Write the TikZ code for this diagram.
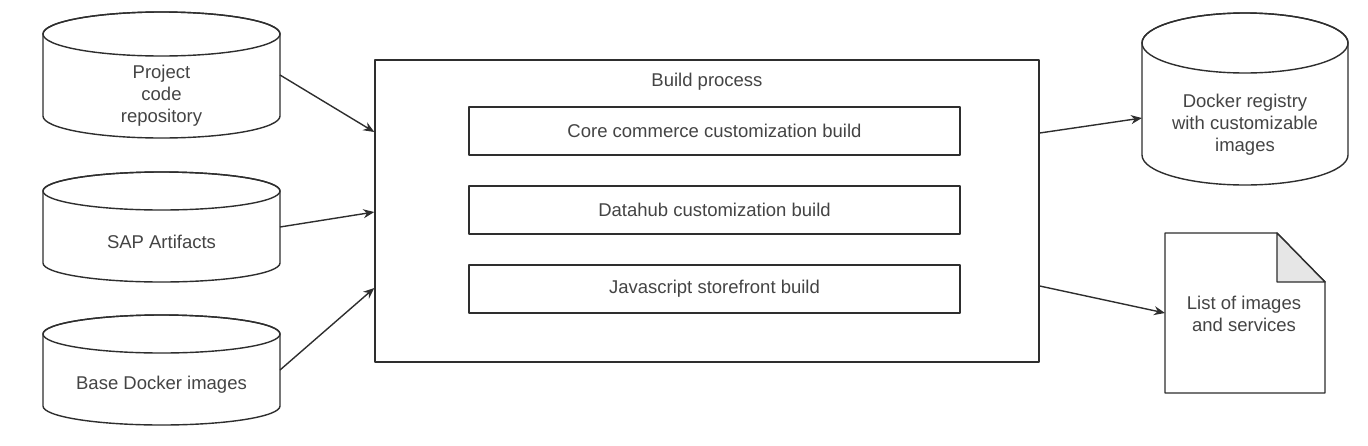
\documentclass[tikz,border=0pt]{standalone}
\usepackage{fontspec}
\setmainfont{Liberation Sans}
\usetikzlibrary{arrows.meta,calc}
\definecolor{linec}{HTML}{2E2E2E}
\definecolor{textc}{HTML}{444444}
\definecolor{foldc}{HTML}{E6E6E6}
\tikzset{
  shapeline/.style={draw=linec, line width=1.4pt, line join=round},
  lbl/.style={text=textc, font=\fontsize{18.5}{22}\selectfont, align=center, inner sep=0pt},
  boxnode/.style={shapeline, fill=white, inner sep=0pt},
  anchornode/.style={inner sep=0pt, outer sep=0pt},
  conn/.style={draw=linec, line width=1.4pt, -{Stealth[length=11pt,width=9pt]}},
}
\newcommand\drawcyl[6]{% name, x1, x2, ytop, ybot, ry
  \pgfmathsetmacro\cxm{(#2+#3)/2}%
  \pgfmathsetmacro\rxm{(#3-#2)/2}%
  \pgfmathsetmacro\cym{(#4+#5)/2}%
  \pgfmathsetmacro\wm{#3-#2}%
  \pgfmathsetmacro\hm{#5-#4}%
  \path[shapeline, fill=white] (#2,#4+#6) -- (#2,#5-#6) arc[start angle=180,end angle=0,x radius=\rxm,y radius=#6] -- (#3,#4+#6) arc[start angle=0,end angle=-180,x radius=\rxm,y radius=#6];
  \draw[shapeline] (\cxm,#4+#6) ellipse[x radius=\rxm, y radius=#6];
  \node[anchornode, minimum width=\wm pt, minimum height=\hm pt] (#1) at (\cxm,\cym) {};
}
\begin{document}
\begin{tikzpicture}[x=1pt,y=-1pt]
\useasboundingbox (0,0) rectangle (1368,445);
% left cylinders
\drawcyl{c1}{43}{280}{12}{138}{22}
\drawcyl{c2}{43}{280}{172}{282}{19}
\drawcyl{c3}{43}{280}{315}{425}{19}
\node[lbl] (t1) at (161.5,96) {Project\\code\\repository};
\node[lbl] (t2) at (161.5,242) {SAP Artifacts};
\node[lbl] (t3) at (161.5,385) {Base Docker images};
% main box
\node[boxnode, minimum width=664pt, minimum height=302pt] (main) at (707,211) {};
\node[lbl] (bp) at (707,82) {Build process};
\node[boxnode, minimum width=491pt, minimum height=48pt] (b1) at (714.5,131) {};
\node[lbl] (b1t) at (b1.center) {Core commerce customization build};
\node[boxnode, minimum width=491pt, minimum height=48pt] (b2) at (714.5,210) {};
\node[lbl] (b2t) at (b2.center) {Datahub customization build};
\node[boxnode, minimum width=491pt, minimum height=48pt] (b3) at (714.5,289) {};
\node[lbl] (b3t) at (b3.center) {Javascript storefront build};
% right cylinder
\drawcyl{cr}{1142}{1348}{13}{185}{30}
\node[lbl] (tr) at (1245,125) {Docker registry\\with customizable\\images};
% document
\draw[shapeline, fill=white] (1165,233) -- (1277,233) -- (1325,282) -- (1325,393) -- (1165,393) -- cycle;
\draw[shapeline, fill=foldc] (1277,233) -- (1277,282) -- (1325,282) -- cycle;
\node[anchornode, minimum width=160pt, minimum height=160pt] (doc) at (1245,313) {};
\node[lbl] (td) at (1244,313.5) {List of images\\and services};
% connectors
\draw[conn] (c1.east) -- ($(main.west)+(0,-79)$);
\draw[conn] (c2.east) -- ($(main.west)+(0,1)$);
\draw[conn] (c3.east) -- ($(main.west)+(0,77)$);
\draw[conn] ($(main.east)+(0,-78)$) -- ($(cr.west)+(0,19)$);
\draw[conn] ($(main.east)+(0,75)$) -- (doc.west);
\end{tikzpicture}
\end{document}
